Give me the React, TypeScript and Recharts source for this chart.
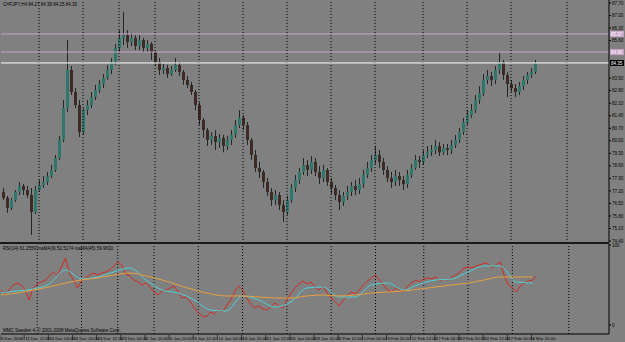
import React from "react";
import { ComposedChart, Bar, Line, XAxis, YAxis, ReferenceLine } from "recharts";

const symbolTitle = "CHFJPY,H4  84.27 84.38 84.25 84.35";
const indicatorTitle = "RSI(14) 61.2559  maMA(9) 52.5174  maMA(45) 59.9630";
const copyright = "MMC Sweden 4, \u00A9 2001-2008 MetaQuotes Software Corp.";

const opens = [
  77.14, 76.81, 76.25, 76.69, 77.14, 77.48, 77.25, 76.97, 76.02, 77.25,
  77.53, 77.70, 78.03, 78.37, 79.04, 80.05, 81.83, 83.96, 82.73, 82.00,
  80.49, 81.72, 82.00, 82.45, 82.84, 83.17, 83.51, 83.96, 84.40, 85.19,
  85.75, 85.91, 85.52, 85.75, 85.30, 85.63, 85.19, 85.41, 84.96, 84.40,
  83.96, 84.07, 83.73, 83.96, 84.24, 83.85, 83.40, 83.12, 82.73, 82.00,
  81.16, 80.60, 80.05, 80.27, 79.93, 80.16, 79.71, 80.05, 80.33, 80.88,
  81.28, 80.88, 80.05, 79.21, 78.48, 78.26, 77.70, 77.14, 76.69, 76.97,
  76.41, 76.02, 76.69, 77.37, 77.81, 78.26, 78.65, 78.37, 78.82, 78.26,
  77.92, 78.37, 77.70, 77.37, 76.97, 76.58, 76.92, 77.14, 77.48, 77.25,
  77.59, 78.09, 78.48, 78.93, 79.21, 78.82, 78.37, 77.92, 77.70, 78.03,
  77.81, 77.59, 78.09, 78.48, 78.93, 78.82, 79.21, 79.36, 79.49, 79.71,
  79.36, 79.60, 79.49, 79.77, 80.05, 80.49, 81.05, 81.44, 81.72, 82.28,
  82.67, 83.40, 83.62, 83.40, 83.96, 84.40, 83.68, 83.17, 82.95, 82.73,
  83.06, 83.40, 83.68, 83.85,
];

const highs = [
  77.37, 76.92, 76.81, 77.25, 77.70, 77.59, 77.48, 77.37, 77.48, 77.81,
  78.03, 78.26, 78.65, 79.21, 80.27, 82.28, 85.63, 84.18, 82.95, 82.28,
  81.83, 82.28, 82.73, 83.12, 83.40, 83.73, 84.24, 84.63, 85.41, 86.19,
  87.20, 86.19, 86.02, 85.91, 85.91, 85.75, 85.63, 85.52, 85.07, 84.63,
  84.29, 84.24, 84.18, 84.63, 84.40, 83.96, 83.62, 83.29, 82.84, 82.17,
  81.28, 80.72, 80.49, 80.60, 80.38, 80.33, 80.27, 80.60, 81.16, 81.72,
  81.44, 81.05, 80.16, 79.49, 78.82, 78.37, 77.92, 77.37, 77.25, 77.14,
  76.69, 76.92, 77.59, 78.09, 78.48, 79.04, 78.93, 79.15, 79.04, 78.59,
  78.65, 78.48, 77.92, 77.53, 77.25, 77.14, 77.48, 77.70, 77.81, 77.92,
  78.37, 78.82, 79.21, 79.71, 79.49, 79.04, 78.59, 78.26, 78.37, 78.26,
  78.03, 78.37, 78.70, 79.21, 79.15, 79.49, 79.71, 79.77, 80.05, 79.93,
  79.82, 79.82, 80.05, 80.33, 80.72, 81.28, 81.72, 82.06, 82.56, 83.06,
  83.73, 83.96, 83.85, 84.18, 84.91, 84.52, 83.85, 83.40, 83.17, 83.29,
  83.62, 83.85, 84.07, 84.52,
];

const lows = [
  76.69, 75.97, 76.13, 76.58, 76.97, 76.97, 76.81, 74.74, 75.91, 77.14,
  77.37, 77.53, 77.92, 78.26, 78.93, 79.93, 81.61, 82.56, 81.83, 80.21,
  80.33, 81.44, 81.83, 82.28, 82.67, 82.95, 83.40, 83.73, 84.24, 84.96,
  85.35, 85.19, 85.30, 85.07, 85.07, 84.96, 84.96, 84.52, 84.18, 83.68,
  83.73, 83.51, 83.62, 83.85, 83.62, 83.12, 82.95, 82.56, 81.72, 80.88,
  80.16, 79.71, 79.77, 79.49, 79.60, 79.36, 79.49, 79.77, 80.16, 80.72,
  80.60, 79.77, 78.93, 78.26, 77.92, 77.37, 76.92, 76.36, 76.41, 76.13,
  75.47, 75.86, 76.53, 77.14, 77.59, 78.09, 78.03, 78.15, 78.03, 77.59,
  77.70, 77.48, 77.03, 76.69, 76.13, 76.36, 76.69, 76.92, 76.97, 77.03,
  77.37, 77.92, 78.26, 78.70, 78.48, 78.09, 77.70, 77.37, 77.48, 77.48,
  77.25, 77.37, 77.92, 78.37, 78.48, 78.65, 79.04, 79.15, 79.26, 79.15,
  79.21, 79.21, 79.26, 79.60, 79.88, 80.33, 80.88, 81.28, 81.55, 82.06,
  82.50, 83.17, 83.06, 83.17, 83.73, 83.40, 82.45, 82.73, 82.45, 82.56,
  82.84, 83.17, 83.51, 83.73,
];

const closes = [
  76.81, 76.25, 76.69, 77.14, 77.48, 77.25, 76.97, 76.02, 77.25, 77.53,
  77.70, 78.03, 78.37, 79.04, 80.05, 81.83, 83.96, 82.73, 82.00, 80.49,
  81.72, 82.00, 82.45, 82.84, 83.17, 83.51, 83.96, 84.40, 85.19, 85.75,
  85.91, 85.52, 85.75, 85.30, 85.63, 85.19, 85.41, 84.96, 84.40, 83.96,
  84.07, 83.73, 83.96, 84.24, 83.85, 83.40, 83.12, 82.73, 82.00, 81.16,
  80.60, 80.05, 80.27, 79.93, 80.16, 79.71, 80.05, 80.33, 80.88, 81.28,
  80.88, 80.05, 79.21, 78.48, 78.26, 77.70, 77.14, 76.69, 76.97, 76.41,
  76.02, 76.69, 77.37, 77.81, 78.26, 78.65, 78.37, 78.82, 78.26, 77.92,
  78.37, 77.70, 77.37, 76.97, 76.58, 76.92, 77.14, 77.48, 77.25, 77.59,
  78.09, 78.48, 78.93, 79.21, 78.82, 78.37, 77.92, 77.70, 78.03, 77.81,
  77.59, 78.09, 78.48, 78.93, 78.82, 79.21, 79.36, 79.49, 79.71, 79.36,
  79.60, 79.49, 79.77, 80.05, 80.49, 81.05, 81.44, 81.72, 82.28, 82.67,
  83.40, 83.62, 83.40, 83.96, 84.40, 83.68, 83.17, 82.95, 82.73, 83.06,
  83.40, 83.68, 83.85, 84.35,
];

const rsi14 = [
  43.8, 38.8, 43.8, 50.0, 52.5, 50.0, 43.8, 31.3, 46.3, 51.3,
  53.8, 56.3, 61.3, 66.3, 61.3, 72.5, 83.8, 65.0, 56.3, 46.3,
  55.0, 58.8, 62.5, 65.0, 62.5, 65.0, 66.3, 68.8, 73.8, 78.8,
  75.0, 63.8, 61.3, 56.3, 53.8, 50.0, 52.5, 47.5, 41.3, 37.5,
  42.5, 43.8, 46.3, 48.8, 41.3, 33.8, 35.0, 28.8, 21.3, 15.0,
  11.3, 10.0, 16.3, 13.8, 18.8, 16.3, 23.8, 31.3, 41.3, 48.8,
  43.8, 33.8, 26.3, 21.3, 23.8, 20.0, 18.8, 22.5, 27.5, 23.8,
  21.3, 31.3, 40.0, 46.3, 51.3, 55.0, 51.3, 53.8, 47.5, 43.8,
  48.8, 40.0, 33.8, 28.8, 23.8, 31.3, 36.3, 41.3, 38.8, 43.8,
  50.0, 55.0, 58.8, 62.5, 56.3, 50.0, 43.8, 41.3, 46.3, 43.8,
  41.3, 48.8, 52.5, 56.3, 53.8, 57.5, 58.8, 57.5, 60.0, 55.0,
  57.5, 56.3, 60.0, 62.5, 66.3, 71.3, 72.5, 71.3, 73.8, 75.0,
  77.5, 76.3, 71.3, 75.0, 78.8, 61.3, 50.0, 46.3, 41.3, 48.8,
  52.5, 55.0, 56.3, 61.3,
];

// sampled every 4th bar
const rsiMa9 = [
  40.0, 42.5, 45.0, 51.3, 68.8, 57.5, 60.0, 66.3, 71.3, 56.3,
  43.8, 40.0, 31.3, 18.8, 17.5, 36.3, 31.3, 22.5, 28.8, 46.3,
  47.5, 35.0, 35.0, 50.0, 52.5, 43.8, 51.3, 56.3, 57.5, 66.3,
  73.8, 73.8, 53.8, 52.5,
];
const rsiMa45 = [
  37.5, 40.0, 43.8, 47.5, 52.5, 56.3, 58.8, 62.5, 65.0, 61.3,
  56.3, 50.0, 43.8, 38.8, 36.3, 36.3, 35.0, 33.8, 33.8, 36.3,
  37.5, 36.3, 37.5, 40.0, 41.3, 42.5, 45.0, 47.5, 50.0, 52.5,
  56.3, 60.0, 60.0, 60.0,
];
const maStep = 4;

const dateLabels = [
  "8 Dec 2008", "11 Dec 12:00", "16 Dec 04:00", "19 Dec 20:00", "23 Dec 12:00",
  "29 Dec 04:00", "2 Jan 20:00", "6 Jan 20:00", "9 Jan 12:00", "14 Jan 04:00",
  "16 Jan 20:00", "21 Jan 12:00", "26 Jan 04:00", "28 Jan 20:00", "2 Feb 12:00",
  "5 Feb 04:00", "9 Feb 20:00", "12 Feb 12:00", "17 Feb 04:00", "19 Feb 20:00",
  "24 Feb 12:00", "27 Feb 04:00", "3 Mar 20:00",
];
const dateLabelEvery = 6;

const periodStartBars = [9, 20, 29, 38, 49, 60, 71, 82, 93, 105, 116, 127, 141];

const priceTicks = [
  74.4, 75.1, 75.8, 76.5, 77.2, 77.9, 78.6, 79.3, 80.0, 80.7,
  81.4, 82.1, 82.8, 83.5, 84.2, 84.9, 85.6, 86.3, 87.0, 87.7,
];
const levelLines = [85.97, 84.96];
const rsiTicks = [0, 100];

const TOTAL_SLOTS = 152;
const lastClose = closes[closes.length - 1];

const rows = Array.from({ length: TOTAL_SLOTS }, (_, i) => {
  if (i >= opens.length) return { i } as any;
  return {
    i,
    o: opens[i],
    h: highs[i],
    l: lows[i],
    c: closes[i],
    range: [lows[i], highs[i]],
    rsi: rsi14[i],
    fast: i % maStep === 0 ? rsiMa9[i / maStep] : null,
    slow: i % maStep === 0 ? rsiMa45[i / maStep] : null,
  };
});

const dateTickBars = dateLabels.map((_, k) => k * dateLabelEvery);
const shownPriceTicks = priceTicks.filter(
  (t) => ![...levelLines, lastClose].some((lv) => Math.abs(lv - t) < 0.2)
);

const BG = "#808080";
const UP = "#2f766c";
const DOWN = "#3d2b25";
const WICK = "#1f2826";
const PINK = "#c9a3c9";
const FONT = "Liberation Sans, Arial, sans-serif";

const Candle = (props: any) => {
  const { x, y, width, height, payload } = props;
  if (!payload || payload.o == null || y == null || height == null) return <g />;
  const { o, h, l, c } = payload;
  const top = Math.min(y, y + height);
  const span = Math.abs(height);
  const k = h - l > 0 ? span / (h - l) : 0;
  const yO = top + (h - o) * k;
  const yC = top + (h - c) * k;
  const cx = Math.floor(x + width / 2);
  const up = c >= o;
  const bTop = Math.min(yO, yC);
  const bH = Math.max(1, Math.abs(yO - yC));
  return (
    <g>
      <rect x={cx} y={top} width={1} height={Math.max(1, span)} fill={WICK} />
      <rect x={cx - 1} y={bTop} width={3} height={bH} fill={up ? UP : DOWN} />
    </g>
  );
};

const levelLabel = (value: number, bg: string, fg: string) => (props: any) => {
  const vb = props.viewBox || {};
  const x = (vb.x ?? 0) + (vb.width ?? 0) + 1;
  const y = vb.y ?? 0;
  return (
    <g>
      <rect x={x} y={y - 3} width={14} height={6} fill={bg} />
      <text x={x + 1} y={y + 2} fontSize={4.5} fill={fg} fontFamily={FONT}>
        {value.toFixed(2)}
      </text>
    </g>
  );
};

const DateTick = (props: any) => {
  const { x, y, payload } = props;
  const idx = dateTickBars.indexOf(payload.value);
  if (idx < 0) return <g />;
  return (
    <g>
      <line x1={x - 1} x2={x - 1} y1={y + 1} y2={y + 6} stroke="#000" strokeWidth={0.6} />
      <text x={x} y={y + 6} fontSize={4.3} fill="#000" fontFamily={FONT} textAnchor="start">
        {dateLabels[idx]}
      </text>
    </g>
  );
};

const axisTick = { fontSize: 4.5, fill: "#000", fontFamily: FONT };

export default function App() {
  return (
    <div
      style={{
        position: "absolute",
        left: 0,
        top: 0,
        width: 625,
        height: 342,
        background: BG,
        overflow: "hidden",
      }}
    >
      <div style={{ position: "absolute", left: 0, top: 0 }}>
        <ComposedChart
          width={625}
          height={243}
          data={rows}
          margin={{ top: 0, right: 0, bottom: 0, left: 1 }}
          barCategoryGap={0}
        >
          <XAxis dataKey="i" type="category" hide />
          <YAxis
            orientation="right"
            type="number"
            width={16}
            domain={[74.29, 87.868]}
            allowDataOverflow
            ticks={shownPriceTicks}
            interval={0}
            tick={axisTick}
            tickSize={2}
            tickMargin={1}
            tickFormatter={(v: number) => v.toFixed(2)}
            axisLine={{ stroke: "#000" }}
            tickLine={{ stroke: "#000" }}
          />
          {periodStartBars.map((b) => (
            <ReferenceLine key={"g" + b} x={b} stroke="#000" strokeDasharray="1 2" strokeWidth={1} />
          ))}
          {levelLines.map((lv) => (
            <ReferenceLine key={"l" + lv} y={lv} stroke={PINK} strokeWidth={1} label={levelLabel(lv, PINK, "#ffffff")} />
          ))}
          <ReferenceLine y={lastClose} stroke="#ffffff" strokeWidth={1} label={levelLabel(lastClose, "#000000", "#ffffff")} />
          <Bar dataKey="range" shape={Candle} barSize={3} isAnimationActive={false} />
        </ComposedChart>
      </div>
      <div style={{ position: "absolute", left: 0, top: 242, width: 609, height: 2, background: "#1a1a1a" }} />
      <div style={{ position: "absolute", left: 0, top: 243 }}>
        <ComposedChart
          width={625}
          height={99}
          data={rows}
          margin={{ top: 1, right: 0, bottom: 0, left: 1 }}
        >
          <XAxis
            dataKey="i"
            type="category"
            height={8}
            ticks={dateTickBars}
            interval={0}
            tick={<DateTick />}
            tickSize={0}
            tickMargin={0}
            axisLine={{ stroke: "#000" }}
            tickLine={false}
          />
          <YAxis
            orientation="right"
            type="number"
            width={16}
            domain={[-11.25, 101.25]}
            allowDataOverflow
            ticks={rsiTicks}
            interval={0}
            tick={axisTick}
            tickSize={2}
            tickMargin={1}
            axisLine={{ stroke: "#000" }}
            tickLine={{ stroke: "#000" }}
          />
          {periodStartBars.map((b) => (
            <ReferenceLine key={"rg" + b} x={b} stroke="#000" strokeDasharray="1 2" strokeWidth={1} />
          ))}
          <Line dataKey="rsi" type="linear" stroke="#d42a22" strokeWidth={1} dot={false} isAnimationActive={false} />
          <Line dataKey="fast" type="monotone" stroke="#4fd2d8" strokeWidth={1} dot={false} connectNulls isAnimationActive={false} />
          <Line dataKey="slow" type="monotone" stroke="#e8a040" strokeWidth={1} dot={false} connectNulls isAnimationActive={false} />
        </ComposedChart>
      </div>
      <svg width={625} height={342} style={{ position: "absolute", left: 0, top: 0, pointerEvents: "none" }}>
        <text x={3} y={6} fontSize={4.5} fill="#000" fontFamily={FONT}>{symbolTitle}</text>
        <text x={3} y={250} fontSize={4.5} fill="#000" fontFamily={FONT}>{indicatorTitle}</text>
        <text x={3} y={332} fontSize={4.5} fill="#000" fontFamily={FONT}>{copyright}</text>
      </svg>
    </div>
  );
}
